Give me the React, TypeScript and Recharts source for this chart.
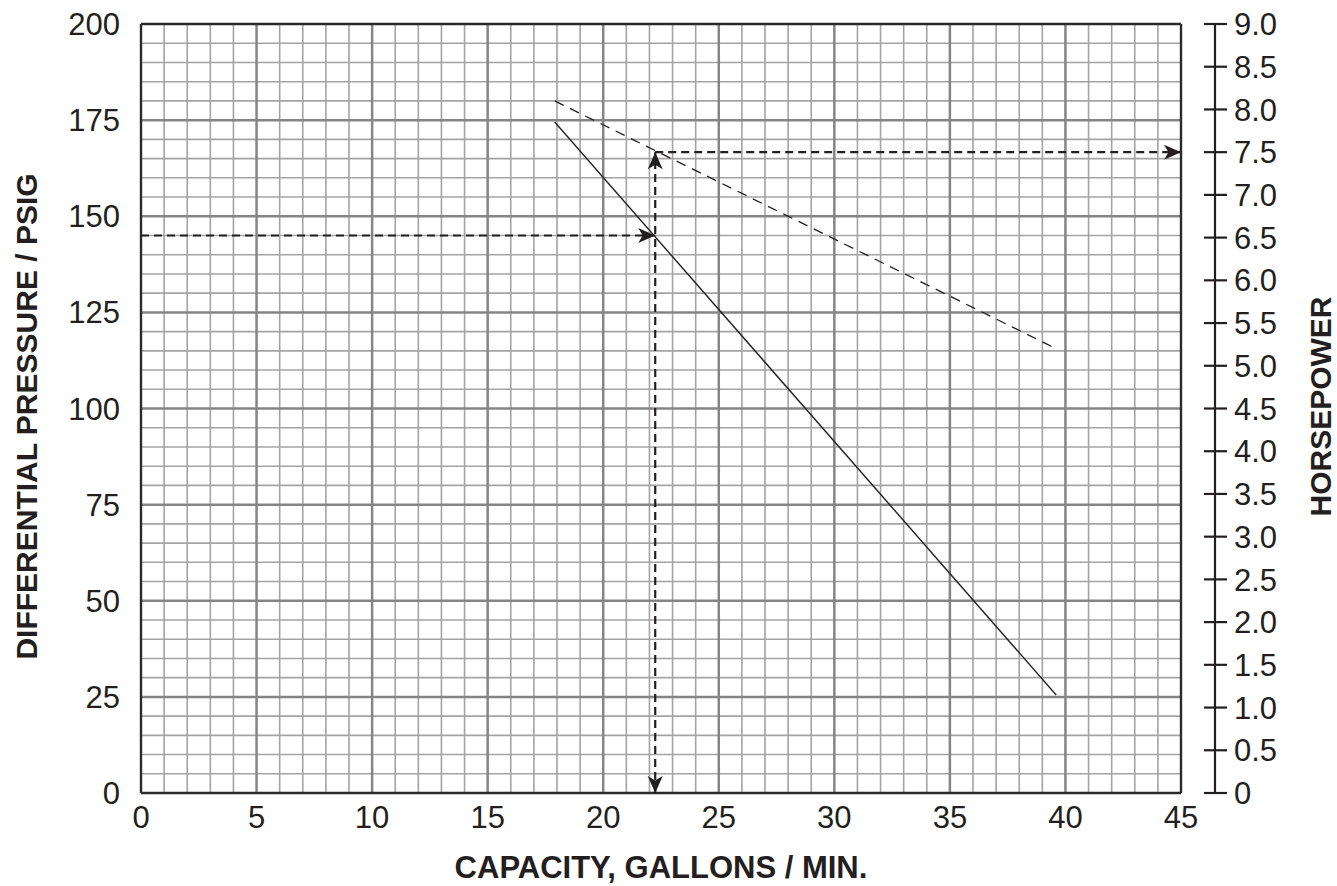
import { ComposedChart, Line, ReferenceLine, XAxis, YAxis } from "recharts"

// pump curve
const capacity = [17.9, 39.6]
const pressure = [174.5, 25.5]
const horsepower = [8.1, 5.2]

// the worked example: 145 psig -> 22.25 gpm -> 7.5 hp
const readFlow = 22.25
const readPressure = 145
const readHp = 7.5

const xTicks = [0, 5, 10, 15, 20, 25, 30, 35, 40, 45]
const psiTicks = [0, 25, 50, 75, 100, 125, 150, 175, 200]
const hpTicks = [0, 0.5, 1, 1.5, 2, 2.5, 3, 3.5, 4, 4.5, 5, 5.5, 6, 6.5, 7, 7.5, 8, 8.5, 9]

const xMajor = [5, 10, 15, 20, 25, 30, 35, 40]
const xMinor = [
  1, 2, 3, 4, 6, 7, 8, 9, 11, 12, 13, 14, 16, 17, 18, 19, 21, 22, 23, 24,
  26, 27, 28, 29, 31, 32, 33, 34, 36, 37, 38, 39, 41, 42, 43, 44,
]
const psiMajor = [25, 50, 75, 100, 125, 150, 175]
const psiMinor = [
  5, 10, 15, 20, 30, 35, 40, 45, 55, 60, 65, 70, 80, 85, 90, 95, 105, 110, 115, 120,
  130, 135, 140, 145, 155, 160, 165, 170, 180, 185, 190, 195,
]

const ink = "#231f20"
const font = '"Liberation Sans", Arial, Helvetica, sans-serif'
const tickSize = 31

const pressureCurve = capacity.map((q, i) => ({ q, psi: pressure[i] }))
const hpCurve = capacity.map((q, i) => ({ q, hp: horsepower[i] }))

const toFlow = [
  { q: 0, psi: readPressure },
  { q: readFlow, psi: readPressure, head: "right" },
]
const flowDrop = [
  { q: readFlow, hp: 0, head: "down" },
  { q: readFlow, hp: readHp, head: "up" },
]
const toHp = [
  { q: readFlow, hp: readHp },
  { q: 45, hp: readHp, head: "right" },
]

function arrowDot(props: any) {
  const { cx, cy, payload, index } = props
  if (!payload || !payload.head) return <g key={"n" + index} />
  const L = 17
  const W = 7.5
  const N = 4.5
  let pts: number[][] = []
  if (payload.head === "right") pts = [[cx, cy], [cx - L, cy - W], [cx - L + N, cy], [cx - L, cy + W]]
  if (payload.head === "up") pts = [[cx, cy], [cx - W, cy + L], [cx, cy + L - N], [cx + W, cy + L]]
  if (payload.head === "down") pts = [[cx, cy], [cx - W, cy - L], [cx, cy - L + N], [cx + W, cy - L]]
  return <polygon key={"a" + index} points={pts.map((p) => p.join(",")).join(" ")} fill={ink} stroke="none" />
}

function HpTick(props: any) {
  const { x, y, payload } = props
  const v = payload.value
  return (
    <g>
      <line x1={x - 11} x2={x + 12} y1={y} y2={y} stroke={ink} strokeWidth={2.2} />
      <text x={x + 19} y={y} dy="0.36em" fontSize={tickSize} fill={ink} fontFamily={font}>
        {v === 0 ? "0" : v.toFixed(1)}
      </text>
    </g>
  )
}

function PsiTitle(props: any) {
  const vb = props.viewBox
  const cy = vb.y + vb.height / 2 + 8
  return (
    <text
      transform={`translate(37 ${cy}) rotate(-90)`}
      textAnchor="middle"
      fontSize={30}
      fontWeight="bold"
      fill={ink}
      fontFamily={font}
    >
      DIFFERENTIAL PRESSURE / PSIG
    </text>
  )
}

function HpTitle(props: any) {
  const vb = props.viewBox
  const cy = vb.y + vb.height / 2 - 2
  return (
    <text
      transform={`translate(${vb.x + 116} ${cy}) rotate(-90)`}
      textAnchor="middle"
      fontSize={30}
      fontWeight="bold"
      fill={ink}
      fontFamily={font}
    >
      HORSEPOWER
    </text>
  )
}

function FlowTitle(props: any) {
  const vb = props.viewBox
  return (
    <text
      x={vb.x + vb.width / 2}
      y={vb.y + 85}
      textAnchor="middle"
      fontSize={31}
      fontWeight="bold"
      fill={ink}
      fontFamily={font}
    >
      CAPACITY, GALLONS / MIN.
    </text>
  )
}

export default function App() {
  return (
    <div style={{ position: "absolute", left: 0, top: 0, fontFamily: font, background: "#fff" }}>
      <ComposedChart width={1337} height={886} margin={{ top: 24, right: 0, bottom: 0, left: 0 }}>
        <XAxis
          dataKey="q"
          type="number"
          domain={[0, 45]}
          ticks={xTicks}
          interval={0}
          axisLine={false}
          tickLine={false}
          tickSize={0}
          tickMargin={13}
          height={93}
          tick={{ fontSize: tickSize, fill: ink }}
          label={{ content: FlowTitle }}
        />
        <YAxis
          yAxisId="psi"
          type="number"
          domain={[0, 200]}
          ticks={psiTicks}
          interval={0}
          axisLine={false}
          tickLine={false}
          tickSize={0}
          tickMargin={21}
          width={141}
          tick={{ fontSize: tickSize, fill: ink }}
          label={{ content: PsiTitle }}
        />
        <YAxis
          yAxisId="gap"
          orientation="right"
          width={34}
          domain={[0, 1]}
          ticks={[]}
          axisLine={false}
          tickLine={false}
          tick={false}
        />
        <YAxis
          yAxisId="hp"
          orientation="right"
          type="number"
          domain={[0, 9]}
          ticks={hpTicks}
          interval={0}
          width={122}
          tickSize={0}
          tickMargin={0}
          tickLine={false}
          axisLine={{ stroke: ink, strokeWidth: 2.2 }}
          tick={HpTick}
          label={{ content: HpTitle }}
        />

        {xMinor.map((v) => (
          <ReferenceLine key={"xm" + v} x={v} yAxisId="psi" stroke="#a4a4a4" strokeWidth={1.6} />
        ))}
        {psiMinor.map((v) => (
          <ReferenceLine key={"ym" + v} y={v} yAxisId="psi" stroke="#a4a4a4" strokeWidth={1.6} />
        ))}
        {xMajor.map((v) => (
          <ReferenceLine key={"xM" + v} x={v} yAxisId="psi" stroke="#858585" strokeWidth={2.5} />
        ))}
        {psiMajor.map((v) => (
          <ReferenceLine key={"yM" + v} y={v} yAxisId="psi" stroke="#858585" strokeWidth={2.5} />
        ))}
        <ReferenceLine x={0} yAxisId="psi" stroke="#2b2b2b" strokeWidth={2.4} />
        <ReferenceLine x={45} yAxisId="psi" stroke="#2b2b2b" strokeWidth={2.4} />
        <ReferenceLine y={0} yAxisId="psi" stroke="#2b2b2b" strokeWidth={2.4} />
        <ReferenceLine y={200} yAxisId="psi" stroke="#2b2b2b" strokeWidth={2.4} />

        <Line
          data={pressureCurve}
          dataKey="psi"
          yAxisId="psi"
          stroke={ink}
          strokeWidth={1.4}
          dot={false}
          activeDot={false}
          isAnimationActive={false}
        />
        <Line
          data={hpCurve}
          dataKey="hp"
          yAxisId="hp"
          stroke={ink}
          strokeWidth={1.3}
          strokeDasharray="10 7"
          dot={false}
          activeDot={false}
          isAnimationActive={false}
        />
        <Line
          data={toFlow}
          dataKey="psi"
          yAxisId="psi"
          stroke={ink}
          strokeWidth={2.2}
          strokeDasharray="8 5"
          dot={arrowDot}
          activeDot={false}
          isAnimationActive={false}
        />
        <Line
          data={flowDrop}
          dataKey="hp"
          yAxisId="hp"
          stroke={ink}
          strokeWidth={2.2}
          strokeDasharray="8 5"
          dot={arrowDot}
          activeDot={false}
          isAnimationActive={false}
        />
        <Line
          data={toHp}
          dataKey="hp"
          yAxisId="hp"
          stroke={ink}
          strokeWidth={2.2}
          strokeDasharray="8 5"
          dot={arrowDot}
          activeDot={false}
          isAnimationActive={false}
        />
      </ComposedChart>
    </div>
  )
}
